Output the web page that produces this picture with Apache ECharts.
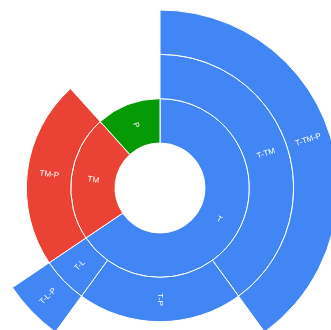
<!DOCTYPE html>
<html>
<head>
<meta charset="utf-8">
<script src="https://cdn.jsdelivr.net/npm/echarts@6/dist/echarts.min.js"></script>
<style>
  html, body { margin: 0; padding: 0; background: #ffffff; }
  #chart { width: 331px; height: 330px; }
</style>
</head>
<body>
<div id="chart"></div>
<script>
// Top-level groups and their shares
const rootNames = ['T', 'TM', 'P'];
const rootValues = [236, 82, 42];
const rootColors = ['#4285f4', '#ea4335', '#069a06'];

// Second level, keyed by parent
const childNames = { T: ['T-TM', 'T-P', 'T-L'], TM: ['TM-P'], P: [] };
const childValues = { T: [144, 72, 20], TM: [82], P: [] };

// Third level, keyed by parent
const grandNames = { 'T-TM': ['T-TM-P'], 'T-L': ['T-L-P'] };
const grandValues = { 'T-TM': [144], 'T-L': [20] };

// Every descendant carries the colour of its top-level ancestor
function buildTree() {
  return rootNames.map((name, i) => {
    const color = rootColors[i];
    return {
      name,
      value: rootValues[i],
      itemStyle: { color },
      children: childNames[name].map((cn, j) => ({
        name: cn,
        value: childValues[name][j],
        itemStyle: { color },
        children: (grandNames[cn] || []).map((gn, k) => ({
          name: gn,
          value: grandValues[cn][k],
          itemStyle: { color }
        }))
      }))
    };
  });
}

const chart = echarts.init(document.getElementById('chart'), null, { renderer: 'canvas' });
chart.setOption({
  animation: false,
  series: [{
    type: 'sunburst',
    data: buildTree(),
    center: [160, 188],
    radius: [45, 178],
    startAngle: 90,
    clockwise: true,
    sort: null,
    nodeClick: false,
    emphasis: { disabled: true },
    itemStyle: { borderColor: '#ffffff', borderWidth: 1 },
    label: {
      rotate: 'radial',
      color: '#ffffff',
      fontSize: 8,
      fontFamily: 'Liberation Sans, Arial, sans-serif'
    }
  }]
});
</script>
</body>
</html>
